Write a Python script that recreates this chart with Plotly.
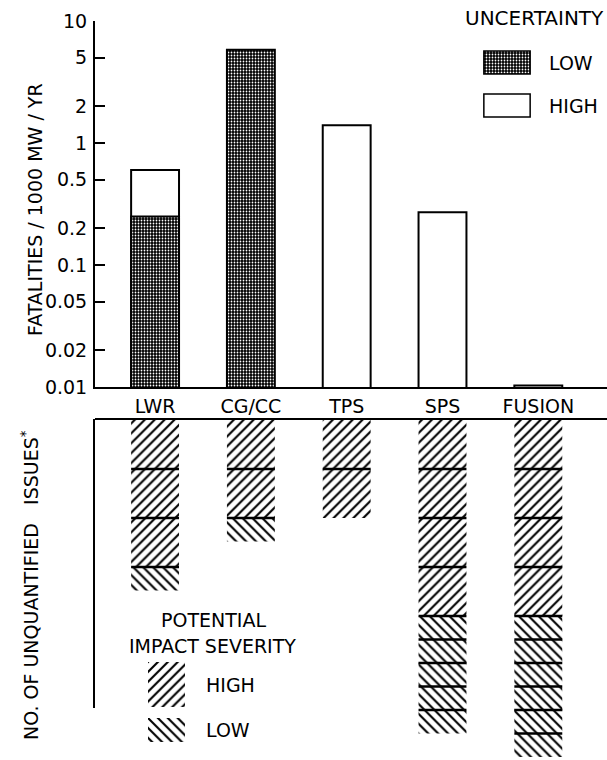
import plotly.graph_objects as go

W, H = 607, 760
FONT = "DejaVu Sans"

# ---------------- data ----------------
categories = ["LWR", "CG/CC", "TPS", "SPS", "FUSION"]
fatal_high_unc = [0.6, None, 1.4, 0.27, 0.0103]   # bar tops, high uncertainty (white)
fatal_low_unc = [0.25, 5.8, None, None, None]     # low-uncertainty (stippled) part
high_issues = [3, 2, 2, 4, 4]                     # unquantified issues, high severity
low_issues = [1, 1, 0, 5, 6]                      # unquantified issues, low severity
ytick_vals = [10, 5, 2, 1, 0.5, 0.2, 0.1, 0.05, 0.02, 0.01]
ytick_text = ["10", "5", "2", "1", "0.5", "0.2", "0.1", "0.05", "0.02", "0.01"]

# ---------------- styles ----------------
HIGH_SEG = 1.0     # drawn height of a high-severity issue block
LOW_SEG = 0.48     # drawn height of a low-severity issue block
BAR_W = 0.5

def px_x(p):
    return p / W

def px_y(p):
    return 1 - p / H

STIPPLE = dict(color="black",
               pattern=dict(shape=".", fgcolor="white", bgcolor="black",
                            size=3, solidity=0.28, fillmode="replace"),
               line=dict(color="black", width=2))
WHITE = dict(color="white", line=dict(color="black", width=2))
HATCH_HIGH = dict(color="white",
                  pattern=dict(shape="/", fgcolor="black", bgcolor="white",
                               size=7, solidity=0.3, fillmode="replace"),
                  line=dict(width=0))
HATCH_LOW = dict(color="white",
                 pattern=dict(shape="\\", fgcolor="black", bgcolor="white",
                              size=7, solidity=0.3, fillmode="replace"),
                 line=dict(width=0))

xpos = list(range(len(categories)))
fig = go.Figure()

# ---- top panel: fatalities (log) ----
fig.add_trace(go.Bar(x=xpos, y=fatal_high_unc, width=BAR_W, marker=WHITE,
                     xaxis="x", yaxis="y", showlegend=False, hoverinfo="skip"))
fig.add_trace(go.Bar(x=xpos, y=fatal_low_unc, width=BAR_W, marker=STIPPLE,
                     xaxis="x", yaxis="y", showlegend=False, hoverinfo="skip"))

# ---- bottom panel: stacked issue blocks hanging from the top ----
hx, hb, hy, lx, lb, ly = [], [], [], [], [], []
sep_x, sep_y = [], []
for i, (h, l) in enumerate(zip(high_issues, low_issues)):
    cur = 0.0
    blocks = [HIGH_SEG] * h + [LOW_SEG] * l
    for k, size in enumerate(blocks):
        if k > 0:
            sep_x += [i - BAR_W / 2, i + BAR_W / 2, None]
            sep_y += [cur, cur, None]
        if k < h:
            hx.append(i); hb.append(cur); hy.append(size)
        else:
            lx.append(i); lb.append(cur); ly.append(size)
        cur += size

fig.add_trace(go.Bar(x=hx, y=hy, base=hb, width=BAR_W, marker=HATCH_HIGH,
                     xaxis="x2", yaxis="y2", showlegend=False, hoverinfo="skip"))
fig.add_trace(go.Bar(x=lx, y=ly, base=lb, width=BAR_W, marker=HATCH_LOW,
                     xaxis="x2", yaxis="y2", showlegend=False, hoverinfo="skip"))
fig.add_trace(go.Scatter(x=sep_x, y=sep_y, mode="lines",
                         line=dict(color="black", width=2.5),
                         xaxis="x2", yaxis="y2", showlegend=False, hoverinfo="skip"))

# ---- legend swatches on small hidden axes ----
layout_extra = {}
def add_swatch(n, x0, y0, x1, y1, marker, pad=0.04):
    layout_extra[f"xaxis{n}"] = dict(domain=[px_x(x0), px_x(x1)], range=[-pad, 1 + pad],
                                     visible=False, anchor=f"y{n}", fixedrange=True,
                                     automargin=False)
    layout_extra[f"yaxis{n}"] = dict(domain=[px_y(y1), px_y(y0)], range=[-pad, 1 + pad],
                                     visible=False, anchor=f"x{n}", fixedrange=True,
                                     automargin=False)
    fig.add_trace(go.Bar(x=[0.5], y=[1], width=[1], marker=marker,
                         xaxis=f"x{n}", yaxis=f"y{n}", showlegend=False, hoverinfo="skip"))

add_swatch(3, 482, 50, 532, 75, dict(STIPPLE, line=dict(color="black", width=1.5)))
add_swatch(4, 482, 93, 532, 118, dict(color="white", line=dict(color="black", width=1.5)))
add_swatch(5, 148, 662, 185, 707, HATCH_HIGH, pad=0)
add_swatch(6, 148, 718, 185, 742, HATCH_LOW, pad=0)

XR = [-0.627, 4.717]
fig.update_layout(
    template="none",
    width=W, height=H, autosize=False,
    margin=dict(l=0, r=0, t=0, b=0, pad=0, autoexpand=False),
    paper_bgcolor="white", plot_bgcolor="white",
    barmode="overlay",
    font=dict(family=FONT, color="black", size=19),
    xaxis=dict(domain=[px_x(95), 1], range=XR, tickvals=xpos, ticktext=categories,
               showline=True, linewidth=2, linecolor="black", ticks="",
               showgrid=False, zeroline=False, anchor="y", automargin=False,
               tickfont=dict(size=19), ticklabelstandoff=1, fixedrange=True),
    yaxis=dict(type="log", range=[-2, 1], domain=[px_y(387), px_y(21)],
               tickvals=ytick_vals, ticktext=ytick_text,
               showline=True, linewidth=2, linecolor="black",
               ticks="inside", ticklen=10, tickwidth=2, tickcolor="black",
               showgrid=False, zeroline=False, anchor="x", automargin=False,
               tickfont=dict(size=19), ticklabelstandoff=2, fixedrange=True),
    xaxis2=dict(domain=[px_x(95), 1], range=XR, side="top",
                showline=True, linewidth=2, linecolor="black",
                showticklabels=False, ticks="", showgrid=False, zeroline=False,
                anchor="y2", fixedrange=True, automargin=False),
    yaxis2=dict(domain=[0, px_y(420)], range=[340 / 49, 0],
                showline=False, showticklabels=False, ticks="",
                showgrid=False, zeroline=False, anchor="x2", fixedrange=True,
                automargin=False),
    **layout_extra,
)

# left border of lower panel (stops short of the bottom)
fig.add_shape(type="line", xref="paper", yref="paper",
              x0=px_x(94), x1=px_x(94), y0=px_y(419), y1=px_y(708),
              line=dict(color="black", width=2))

def note(text, x, y, xanchor="center", angle=0, size=19):
    fig.add_annotation(text=text, xref="paper", yref="paper",
                       x=px_x(x), y=px_y(y), xanchor=xanchor, yanchor="middle",
                       showarrow=False, textangle=angle, borderpad=0,
                       font=dict(family=FONT, size=size, color="black"))

note("FATALITIES / 1000 MW / YR", 35, 210, angle=-90)
note("NO. OF UNQUANTIFIED\u00a0\u00a0 ISSUES<sup>*</sup>", 30, 585, angle=-90)
note("UNCERTAINTY", 605, 18, xanchor="right", size=20)
note("LOW", 548, 63, xanchor="left", size=19)
note("HIGH", 548, 106, xanchor="left", size=19)
note("POTENTIAL", 213, 620, size=19)
note("IMPACT SEVERITY", 212, 646, size=19)
note("HIGH", 205, 685, xanchor="left", size=19)
note("LOW", 205, 730, xanchor="left", size=19)

fig.write_html(
    "out.html",
    config={"displayModeBar": False, "staticPlot": True},
    post_script="document.body.style.margin='0';document.body.style.padding='0';"
                "document.body.style.overflow='hidden';",
)
